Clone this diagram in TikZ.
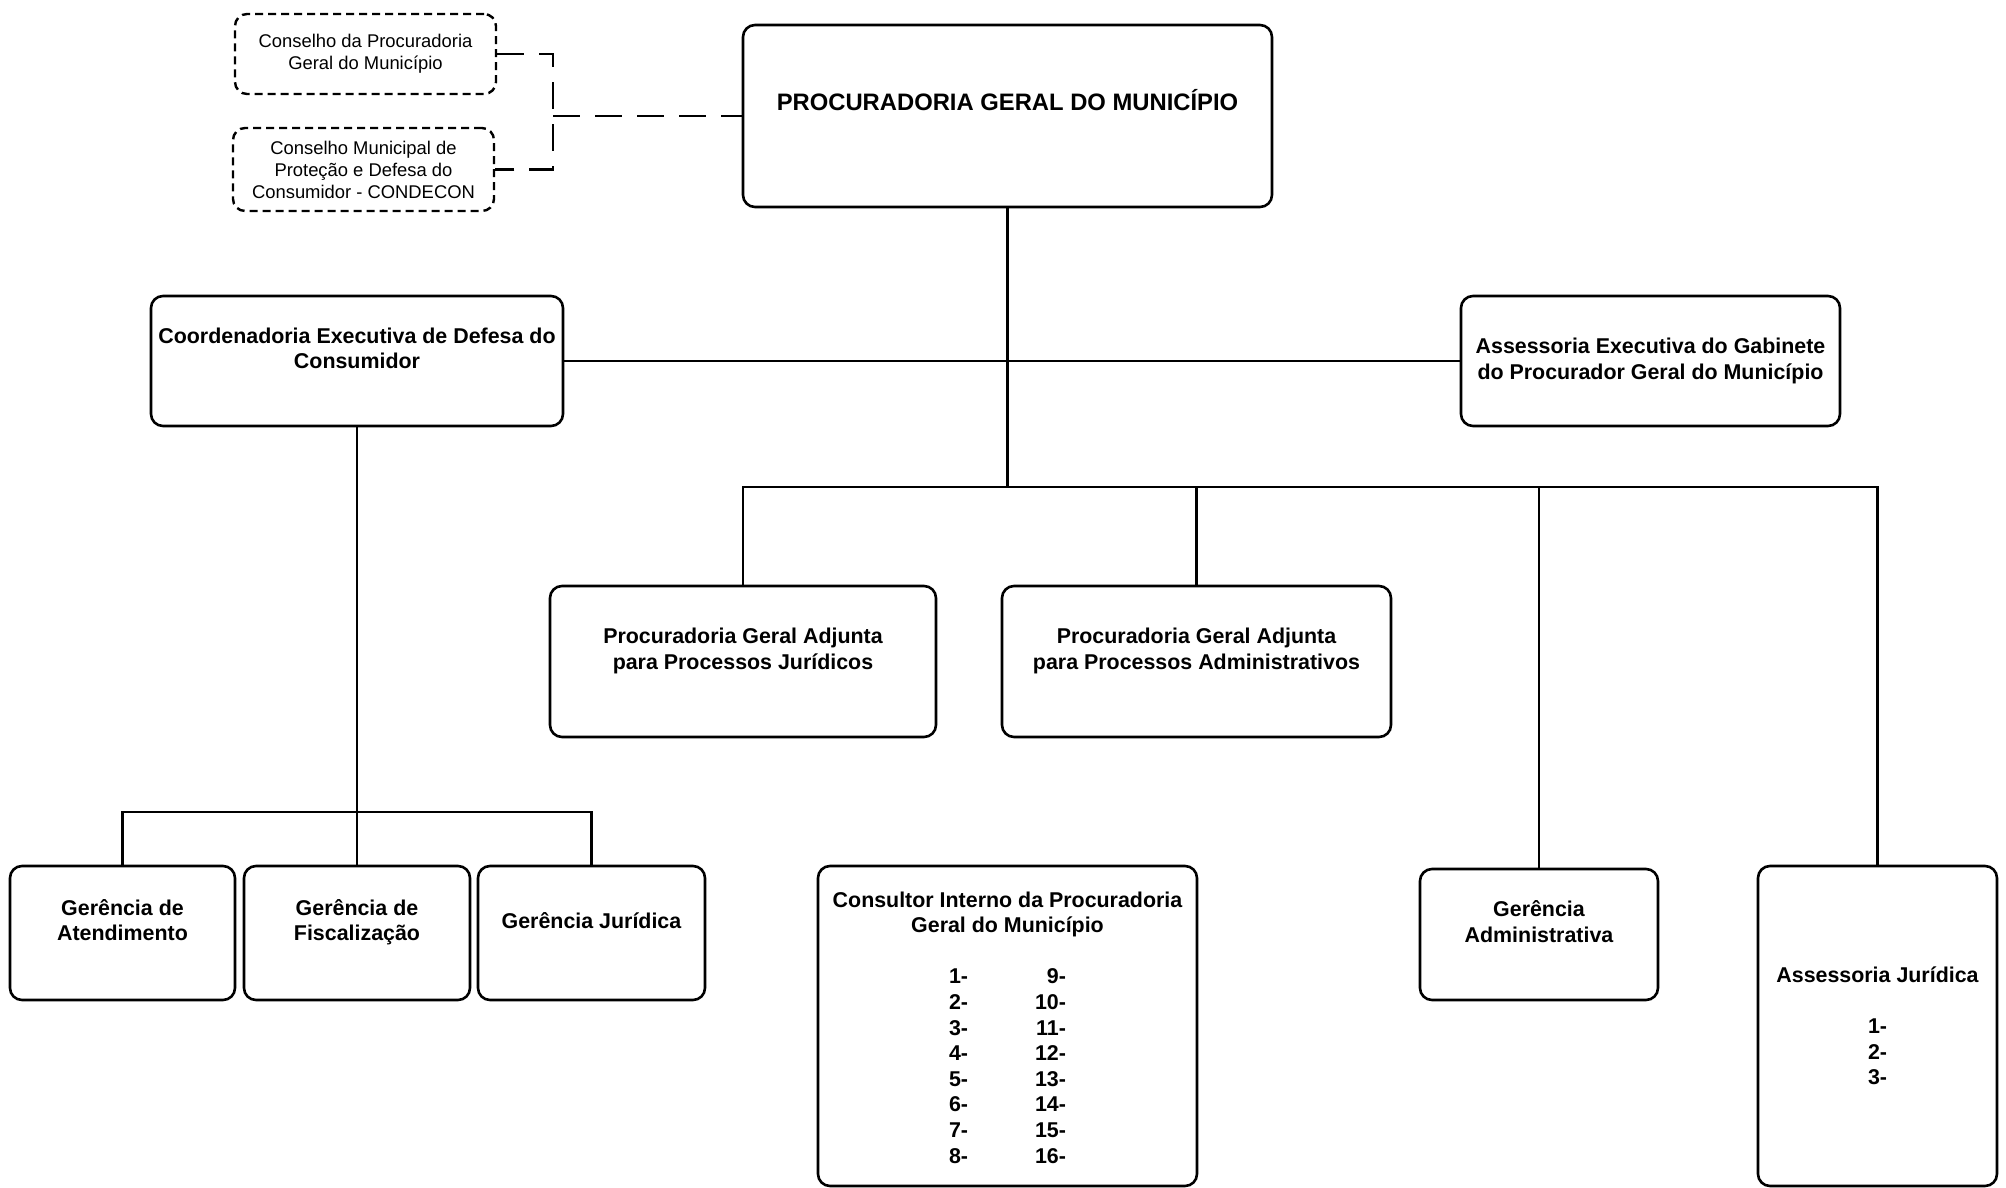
\documentclass[tikz,border=0pt]{standalone}
\usepackage{fontspec}
\setmainfont{Liberation Sans}
\usetikzlibrary{positioning, calc}

\begin{document}
\begin{tikzpicture}[x=1pt, y=-1pt,
					unit/.style={draw, rounded corners=12pt, line width=2.6pt, align=center, inner sep=0pt,
						font=\bfseries\fontsize{21.4}{25.6}\selectfont},
					council/.style={draw, rounded corners=12pt, line width=2.4pt, dash pattern=on 8pt off 5pt,
						align=center, inner sep=0pt, font=\fontsize{18.4}{22}\selectfont},
					link/.style={line width=2.6pt},
					dashlink/.style={line width=2.6pt, dash pattern=on 27pt off 15pt}]
					\useasboundingbox (0,0) rectangle (2006,1188);
					\node[council, minimum width=261pt, minimum height=80pt] (cons1) at (365.5,54) {Conselho da Procuradoria\\Geral do Município};
					\node[council, minimum width=261pt, minimum height=83pt] (cons2) at (363.5,169.5) {Conselho Municipal de\\Proteção e Defesa do\\Consumidor - CONDECON};
					\node[unit, minimum width=529pt, minimum height=182pt, font=\bfseries\fontsize{23.8}{32}\selectfont] (pgm) at (1007.5,116) {PROCURADORIA GERAL DO MUNICÍPIO\\~};
					\node[unit, minimum width=412pt, minimum height=130pt] (coord) at (357,361) {Coordenadoria Executiva de Defesa do\\Consumidor\\~};
					\node[unit, minimum width=379pt, minimum height=130pt] (assex) at (1650.5,361) {Assessoria Executiva do Gabinete\\do Procurador Geral do Município};
					\node[unit, minimum width=386pt, minimum height=151pt] (pga1) at (743,661.5) {Procuradoria Geral Adjunta\\para Processos Jurídicos\\~};
					\node[unit, minimum width=389pt, minimum height=151pt] (pga2) at (1196.5,661.5) {Procuradoria Geral Adjunta\\para Processos Administrativos\\~};
					\node[unit, minimum width=225pt, minimum height=134pt] (gat) at (122.5,933) {Gerência de\\Atendimento\\~};
					\node[unit, minimum width=226pt, minimum height=134pt] (gfi) at (357,933) {Gerência de\\Fiscalização\\~};
					\node[unit, minimum width=227pt, minimum height=134pt] (gju) at (591.5,933) {Gerência Jurídica\\~};
					\node[unit, minimum width=238pt, minimum height=131pt] (gadm) at (1539,934.5) {Gerência\\Administrativa\\~};
					\node[unit, minimum width=379pt, minimum height=320pt] (cint) at (1007.5,1026) {\rule{0pt}{26pt}Consultor Interno da Procuradoria\\Geral do Município\\~\\
						\begin{tabular}[t]{@{}l@{\hspace{67pt}}r@{}}
							1- & 9-\\ 2- & 10-\\ 3- & 11-\\ 4- & 12-\\ 5- & 13-\\ 6- & 14-\\ 7- & 15-\\ 8- & 16-
						\end{tabular}};
					\node[unit, minimum width=239pt, minimum height=320pt] (asju) at (1877.5,1026) {Assessoria Jurídica\\~\\1-\\2-\\3-};
					\coordinate (bus) at (1007.5,487);
					\coordinate (lbus) at (357,812);
					\coordinate (jn) at (553,116);
					\draw[link] (pgm.south) -- (bus);
					\draw[link] (coord.east) -- (assex.west);
					\draw[link] (pga1.north) |- (bus) -| (asju.north);
					\draw[link] (pga2.north) -- (pga2.north |- bus);
					\draw[link] (gadm.north) -- (gadm.north |- bus);
					\draw[link] (coord.south) -- (gfi.north);
					\draw[link] (gat.north) |- (lbus) -| (gju.north);
					\draw[dashlink] (cons1.east) -| (jn) |- (cons2.east);
					\draw[dashlink] (jn) -- (pgm.west);
				\end{tikzpicture}
\end{document}
